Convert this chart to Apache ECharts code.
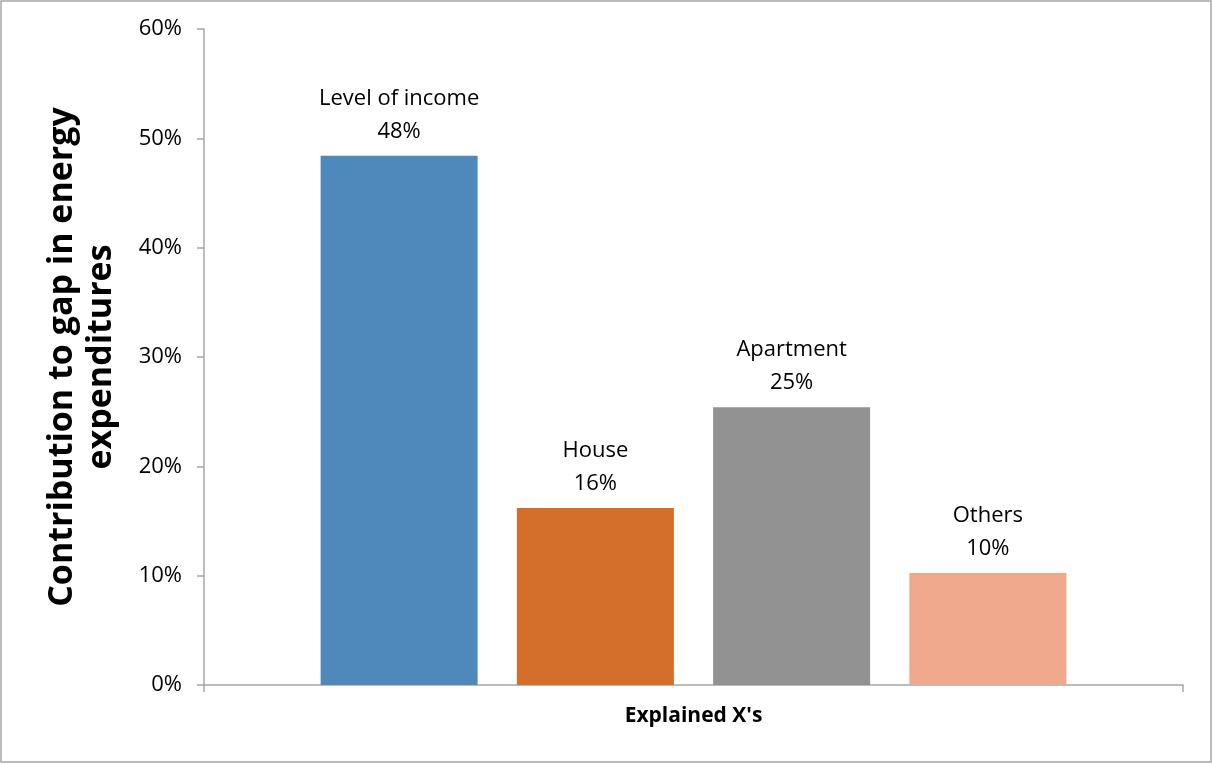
<!DOCTYPE html>
<html>
<head>
<meta charset="utf-8">
<script src="https://cdn.jsdelivr.net/npm/echarts@6/dist/echarts.min.js"></script>
<style>
html,body{margin:0;padding:0;background:#fff;}
#chart{width:1212px;height:765px;}
</style>
</head>
<body>
<div id="chart"></div>
<script>
const categories = [''];
const seriesNames = ['Level of income', 'House', 'Apartment', 'Others'];
const seriesValues = [48.4, 16.2, 25.4, 10.25];
const seriesColors = ['#4F89BC', '#D36F2B', '#929292', '#F0A88C'];
const yTicks = [0, 10, 20, 30, 40, 50, 60];

const FONT = '"Open Sans", "Liberation Sans", sans-serif';
const chart = echarts.init(document.getElementById('chart'));

const series = seriesNames.map((name, i) => ({
  name: name,
  type: 'bar',
  data: [seriesValues[i]],
  barWidth: 157,
  barGap: '25%',
  itemStyle: { color: seriesColors[i] },
  label: {
    show: true,
    position: 'top',
    distance: 8,
    fontFamily: FONT,
    fontSize: 22,
    color: '#000',
    lineHeight: 33,
    align: 'center',
    formatter: p => p.seriesName + '\n' + Math.round(p.value) + '%'
  }
}));

chart.setOption({
  animation: false,
  backgroundColor: '#fff',
  graphic: [{
    type: 'rect',
    shape: { x: 1, y: 1, width: 1210, height: 761 },
    style: { fill: 'none', stroke: '#A6A6A6', lineWidth: 1.5 },
    silent: true
  }],
  grid: { left: 204, right: 29, top: 29, bottom: 80 },
  xAxis: {
    type: 'category',
    data: categories,
    name: "Explained X's",
    nameLocation: 'middle',
    nameGap: 21,
    nameTextStyle: { fontFamily: FONT, fontSize: 21, fontWeight: 'bold', color: '#000' },
    axisLine: { lineStyle: { color: '#A6A6A6', width: 1.5 } },
    axisTick: { show: true, length: 7, lineStyle: { color: '#A6A6A6', width: 1.5 } },
    axisLabel: { show: false },
    splitLine: { show: false }
  },
  yAxis: {
    type: 'value',
    min: yTicks[0],
    max: yTicks[yTicks.length - 1],
    interval: 10,
    name: 'Contribution to gap in energy\nexpenditures',
    nameLocation: 'middle',
    nameGap: 83,
    nameRotate: 90,
    nameTextStyle: { fontFamily: FONT, fontSize: 34, fontWeight: 'bold', color: '#000', lineHeight: 39 },
    axisLine: { show: true, lineStyle: { color: '#A6A6A6', width: 1.5 } },
    axisTick: { show: true, length: 7, lineStyle: { color: '#A6A6A6', width: 1.5 } },
    axisLabel: { fontFamily: FONT, fontSize: 22, color: '#000', margin: 22, formatter: '{value}%' },
    splitLine: { show: false }
  },
  series: series
});
</script>
</body>
</html>
